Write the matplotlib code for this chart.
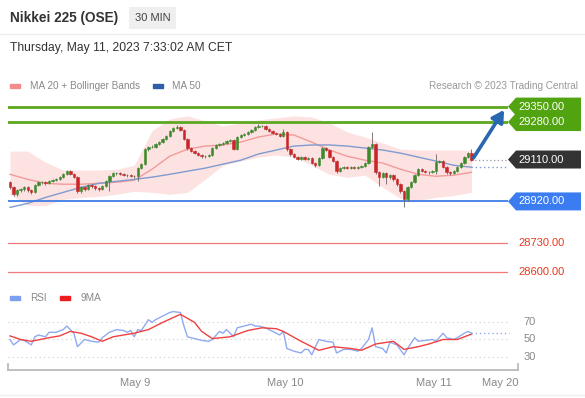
import numpy as np
import matplotlib
matplotlib.use('Agg')
import matplotlib.pyplot as plt
from matplotlib.patches import Polygon
import matplotlib.transforms as mtransforms

plt.rcParams['font.family'] = ['Liberation Sans', 'DejaVu Sans']

# 30 min candles, open of each bar = previous close
first_open = 29007
closes = [28984, 28952, 28970, 28975, 28984, 28970, 28961, 28993, 29007, 29007,
          29002, 29011, 29016, 29020, 29030, 29043, 29057, 29043, 29030, 28966,
          28984, 28975, 28993, 28988, 28979, 28975, 28988, 29011, 29034, 29048,
          29048, 29043, 29039, 29039, 29034, 29034, 29071, 29089, 29157, 29167,
          29167, 29180, 29189, 29203, 29217, 29240, 29253, 29258, 29244, 29203,
          29162, 29148, 29139, 29130, 29125, 29125, 29130, 29162, 29176, 29180,
          29185, 29194, 29199, 29157, 29212, 29221, 29226, 29235, 29244, 29258,
          29262, 29262, 29249, 29240, 29230, 29226, 29217, 29235, 29157, 29135,
          29121, 29112, 29121, 29112, 29116, 29094, 29084, 29116, 29162, 29153,
          29121, 29103, 29057, 29071, 29075, 29071, 29075, 29071, 29075, 29080,
          29094, 29167, 29180, 29052, 29030, 29048, 29030, 29039, 29020, 28998,
          28966, 28929, 28984, 29007, 29039, 29066, 29057, 29052, 29052, 29057,
          29098, 29103, 29075, 29052, 29048, 29057, 29075, 29094, 29121, 29139,
          29110]
highs = [29014, 28990, 28978, 28982, 28990, 28991, 28976, 28998, 29013, 29013,
         29012, 29016, 29021, 29026, 29035, 29048, 29063, 29061, 29048, 29034,
         28990, 28989, 28998, 28998, 28993, 28984, 28993, 29016, 29039, 29053,
         29055, 29053, 29048, 29045, 29044, 29040, 29076, 29094, 29162, 29173,
         29174, 29186, 29195, 29208, 29223, 29245, 29259, 29266, 29263, 29249,
         29208, 29167, 29153, 29144, 29135, 29131, 29136, 29167, 29181, 29186,
         29190, 29199, 29205, 29203, 29217, 29226, 29231, 29240, 29249, 29263,
         29270, 29268, 29266, 29254, 29245, 29235, 29230, 29249, 29240, 29162,
         29140, 29126, 29126, 29126, 29122, 29121, 29099, 29121, 29167, 29167,
         29158, 29126, 29108, 29076, 29080, 29080, 29080, 29080, 29080, 29085,
         29099, 29172, 29235, 29185, 29057, 29053, 29053, 29044, 29044, 29025,
         29003, 28971, 28989, 29012, 29044, 29071, 29071, 29062, 29058, 29062,
         29135, 29108, 29108, 29080, 29057, 29062, 29080, 29099, 29126, 29144,
         29157]
lows = [28975, 28943, 28945, 28964, 28968, 28963, 28952, 28957, 28989, 29000,
        28996, 28998, 29006, 29012, 29016, 29025, 29039, 29038, 29025, 28957,
        28960, 28969, 28970, 28982, 28973, 28968, 28970, 28984, 28966, 29030,
        29042, 29038, 29034, 29033, 29029, 29028, 29011, 29066, 29084, 29150,
        29160, 29162, 29175, 29184, 29198, 29212, 29235, 29248, 29238, 29198,
        29155, 29142, 29133, 29124, 29119, 29119, 29120, 29126, 29157, 29171,
        29175, 29180, 29189, 29151, 29152, 29207, 29216, 29221, 29230, 29239,
        29253, 29256, 29244, 29235, 29225, 29220, 29212, 29212, 29150, 29128,
        29115, 29106, 29107, 29106, 29106, 29088, 29078, 29080, 29111, 29147,
        29116, 29098, 29048, 29052, 29066, 29065, 29066, 29066, 29066, 29070,
        29075, 29089, 29162, 29043, 28988, 29025, 29000, 29020, 29013, 28990,
        28957, 28893, 28920, 28979, 29002, 29034, 29052, 29047, 29046, 29047,
        29043, 29093, 29070, 29043, 29040, 29043, 29052, 29070, 29089, 29116,
        29105]

# indicator readings every 5 bars
ind_idx = list(range(0, 131, 5))
ma20 = [29043, 29020, 29002, 28998, 28998, 29002, 29007, 29016, 29066, 29125,
        29157, 29171, 29176, 29189, 29212, 29226, 29221, 29189, 29153, 29125,
        29107, 29094, 29066, 29043, 29034, 29039, 29052]
ma50 = [28893, 28911, 28938, 28961, 28984, 29002, 29011, 29020, 29030, 29043,
        29057, 29071, 29089, 29107, 29135, 29153, 29171, 29176, 29176, 29171,
        29162, 29153, 29139, 29121, 29103, 29084, 29075]
bb_upper = [29148, 29148, 29098, 29062, 29062, 29062, 29066, 29084, 29240, 29294,
            29308, 29285, 29262, 29276, 29290, 29299, 29308, 29303, 29276, 29235,
            29212, 29185, 29157, 29153, 29153, 29153, 29153]
bb_lower = [28952, 28902, 28902, 28929, 28938, 28943, 28952, 28966, 28961, 28952,
            28961, 29020, 29084, 29103, 29121, 29130, 29121, 29084, 29043, 29030,
            29039, 28984, 28934, 28925, 28938, 28947, 28961]

rsi_idx = [0, 1, 3, 4, 6, 7, 8, 10, 11, 13, 15, 16, 18, 19, 21, 23, 25, 26, 28, 30,
           32, 33, 34, 35, 36, 37, 39, 40, 41, 43, 45, 46, 48, 49, 50, 52, 54, 56, 57, 59,
           60, 61, 63, 64, 66, 68, 69, 70, 72, 74, 76, 77, 78, 80, 82, 83, 84, 85, 87, 89,
           91, 92, 94, 96, 98, 99, 101, 102, 103, 105, 106, 107, 109, 111, 112, 114, 115, 117, 119, 120,
           122, 123, 125, 126, 128, 129, 130]
rsi = [50, 44, 50, 49, 44, 53, 55, 53, 58, 58, 61, 65, 57, 42, 50, 48, 47, 52, 58, 61,
       60, 58, 60, 53, 61, 60, 72, 69, 72, 76, 80, 81, 80, 65, 53, 51, 49, 48, 50, 59,
       57, 61, 53, 63, 65, 67, 65, 65, 63, 59, 55, 59, 40, 37, 35, 39, 39, 33, 50, 48,
       47, 35, 39, 39, 37, 40, 50, 63, 42, 40, 35, 47, 44, 33, 40, 52, 48, 49, 50, 48,
       57, 52, 50, 52, 57, 59, 57]
ma9_idx = [0, 3, 6, 11, 14, 17, 20, 23, 26, 29, 35, 39, 43, 48, 52, 54, 57, 62, 67, 71,
           75, 77, 82, 87, 91, 96, 99, 103, 108, 111, 115, 118, 122, 126, 130]
ma9 = [54, 50, 48, 52, 54, 59, 57, 53, 48, 53, 57, 61, 69, 78, 69, 59, 51, 53, 60, 63,
       62, 59, 48, 38, 42, 40, 38, 45, 48, 39, 42, 45, 50, 50, 56]

support = 28920
resistances = [29280, 29350]
lower_levels = [28730, 28600]
last_price = 29110
date_ticks = [35.2, 77.5, 119.4, 138]
date_labels = ['May 9', 'May 10', 'May 11', 'May 20']

W, H = 585, 398
fig = plt.figure(figsize=(W / 100, H / 100), dpi=100)


def fx(px):
    return px / W


def fy(py):
    return 1 - py / H


# header
fig.add_artist(plt.Line2D([0, 1], [fy(34), fy(34)], color='#eeeeee', lw=1))
fig.text(fx(10), fy(18), 'Nikkei 225 (OSE)', fontsize=9.8, fontweight='bold',
         color='#333333', va='center')
fig.text(fx(135), fy(18), '30 MIN', fontsize=8, color='#444444', va='center',
         bbox=dict(boxstyle='square,pad=0.5', fc='#efefef', ec='none'))
fig.text(fx(10), fy(48), 'Thursday, May 11, 2023 7:33:02 AM CET', fontsize=8.7,
         color='#333333', va='center')

# legend row
fig.add_artist(plt.Rectangle((fx(10), fy(88)), 10 / W, 4 / H, color='#f28b8b'))
fig.text(fx(30), fy(86), 'MA 20 + Bollinger Bands', fontsize=7.2, color='#888888', va='center')
fig.add_artist(plt.Rectangle((fx(153), fy(88)), 10 / W, 4 / H, color='#2d5ea8'))
fig.text(fx(172), fy(86), 'MA 50', fontsize=7.2, color='#888888', va='center')
fig.text(fx(578), fy(86), 'Research \u00a9 2023 Trading Central', fontsize=7.2,
         color='#999999', va='center', ha='right')

# main price panel
ax = fig.add_axes([fx(8), fy(285), (508 - 8) / W, (285 - 98) / H])
ax.set_xlim(-0.56, 140.3)
ax.set_ylim(28541, 29389)
ax.axis('off')

x = np.arange(len(closes))
c = np.array(closes, dtype=float)
o = np.array([first_open] + closes[:-1], dtype=float)
up = c >= o

ax.fill_between(ind_idx, bb_lower, bb_upper, color='#fde2e2', lw=0, zorder=1)
ax.plot(ind_idx, ma20, color='#f39a9a', lw=1, zorder=2)
ax.plot(ind_idx, ma50, color='#7f9bcf', lw=1, zorder=2)
ax.plot([ind_idx[-1], 141], [ma50[-1], ma50[-1]], color='#7f9bcf', lw=1, ls=(0, (1, 2)), zorder=2)

ax.vlines(x, lows, highs, color='#666666', lw=0.6, zorder=3)
ax.bar(x, c - o, bottom=o, width=0.66, color=np.where(up, '#3c8a2a', '#c8262a'),
       edgecolor=np.where(up, '#3c8a2a', '#c8262a'), lw=0.4, zorder=4)

for lv in resistances:
    ax.axhline(lv, color='#5ca91f', lw=2, zorder=2)
ax.axhline(support, color='#3f7de6', lw=1.3, zorder=2)
for lv in lower_levels:
    ax.axhline(lv, color='#f07a7a', lw=0.9, zorder=2)
ax.plot([x[-1], 141], [last_price, last_price], color='#999999', lw=0.9,
        ls=(0, (1, 2)), zorder=2)

ax.annotate('', xy=(139.2, resistances[1] - 15), xytext=(x[-1] + 0.6, closes[-1] + 8),
            arrowprops=dict(arrowstyle='-|>,head_length=0.7,head_width=0.4',
                            color='#2a67b1', lw=2.6, shrinkA=0, shrinkB=0), zorder=6)

# price tags on the right edge
tr = mtransforms.blended_transform_factory(fig.transFigure, ax.transData)
half = 9 * (ax.get_ylim()[1] - ax.get_ylim()[0]) / 187


def tag(price, fc, tc='white'):
    pts = [(fx(508), price), (fx(516), price + half), (fx(581), price + half),
           (fx(581), price - half), (fx(516), price - half)]
    fig.add_artist(Polygon(pts, closed=True, fc=fc, ec='none', transform=tr, zorder=5))
    fig.text(fx(518), price, f'{price:.2f}', transform=tr, ha='left', va='center',
             fontsize=8, color=tc, zorder=6)


tag(resistances[1], '#52a310')
tag(resistances[0], '#52a310')
tag(last_price, '#333333')
tag(support, '#3b7cf0')
for lv in lower_levels:
    fig.text(fx(518), lv, f'{lv:.2f}', transform=tr, ha='left', va='center',
             fontsize=8, color='#e8391f')

# RSI panel
rax = fig.add_axes([fx(8), fy(370), (518 - 8) / W, (370 - 300) / H])
rax.set_xlim(-0.56, 143.1)
rax.set_ylim(16.1, 93.9)
for s in ['top', 'left', 'right']:
    rax.spines[s].set_visible(False)
rax.spines['bottom'].set_color('#bbbbbb')
rax.spines['bottom'].set_linewidth(1.3)
for lv in [30, 50, 70]:
    rax.hlines(lv, -0.56, 140.5, color='#cccccc', lw=0.8, ls=(0, (1, 3)))
rax.plot(rsi_idx, rsi, color='#90aaf0', lw=1)
rax.plot(ma9_idx, ma9, color='#f04040', lw=1)
rax.plot([rsi_idx[-1], 140.5], [rsi[-1], rsi[-1]], color='#90aaf0', lw=1, ls=(0, (1, 2)))
rax.plot([0, 0], [0, 0.08], transform=rax.transAxes, color='#bbbbbb', lw=1.3, clip_on=False)
rax.plot([1, 1], [0, 0.08], transform=rax.transAxes, color='#bbbbbb', lw=1.3, clip_on=False)
rax.set_yticks([])
rax.set_xticks(date_ticks)
rax.set_xticklabels(date_labels)
rax.tick_params(axis='x', length=0, pad=6, labelsize=8, labelcolor='#888888')
ytr = mtransforms.blended_transform_factory(rax.transAxes, rax.transData)
for lv in [70, 50, 30]:
    rax.text(1.01, lv, str(lv), transform=ytr, ha='left', va='center',
             fontsize=8, color='#888888')

fig.add_artist(plt.Rectangle((fx(10), fy(300)), 10 / W, 4 / H, color='#7e9ff0'))
fig.text(fx(30), fy(298), 'RSI', fontsize=7.2, color='#888888', va='center')
fig.add_artist(plt.Rectangle((fx(60), fy(300)), 10 / W, 4 / H, color='#ee1c1c'))
fig.text(fx(80), fy(298), '9MA', fontsize=7.2, color='#888888', va='center')

fig.add_artist(plt.Line2D([0, 1], [fy(395), fy(395)], color='#eeeeee', lw=1))

fig.savefig('out.png', dpi=100)
